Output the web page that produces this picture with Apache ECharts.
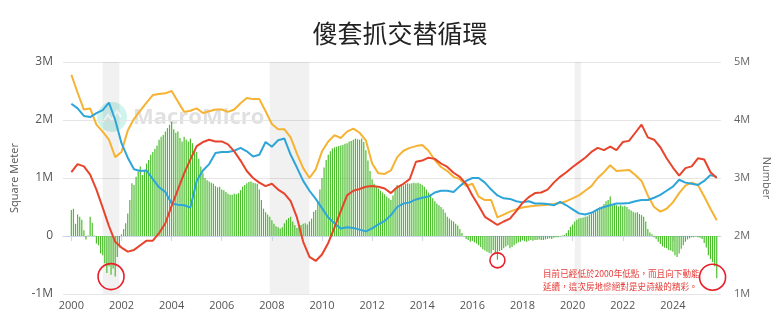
<!DOCTYPE html>
<html>
<head>
<meta charset="utf-8">
<script src="https://cdn.jsdelivr.net/npm/echarts@6/dist/echarts.min.js"></script>
<style>
  html, body { margin: 0; padding: 0; background: #fff; }
  #chart { width: 780px; height: 325px; }
</style>
</head>
<body>
<div id="chart"></div>
<script>
// Monthly categories, Sep 1999 .. Dec 2025 (the axis runs a little past the data on both ends)
const monthLabels = [];
for (let y = 1999; y <= 2025; y++) {
  for (let m = 1; m <= 12; m++) {
    if (y === 1999 && m < 9) continue;
    monthLabels.push(y + '-' + String(m).padStart(2, '0'));
  }
}
const firstMonth = '2000-01';

// Monthly gap bars (M square meters), Jan 2000 .. Oct 2025, one row per year
const gapBars = [
  0.45, 0.47, 0.21, 0.37, 0.33, 0.28, 0.10, -0.06, 0.01, 0.33, 0.23, 0.01,
  -0.13, -0.16, -0.30, -0.33, -0.47, -0.64, -0.52, -0.67, -0.56, -0.70, -0.36, -0.20,
  0.03, 0.12, 0.22, 0.39, 0.62, 0.91, 0.88, 1.02, 1.11, 1.20, 1.05, 1.14,
  1.25, 1.31, 1.40, 1.45, 1.50, 1.56, 1.66, 1.71, 1.74, 1.80, 1.86, 1.92,
  1.97, 1.84, 1.78, 1.80, 1.69, 1.63, 1.71, 1.66, 1.63, 1.68, 1.60, 1.50,
  1.45, 1.33, 1.20, 1.08, 1.00, 0.96, 0.94, 0.92, 0.90, 0.86, 0.84, 0.85,
  0.80, 0.79, 0.76, 0.73, 0.71, 0.71, 0.73, 0.72, 0.74, 0.79, 0.85, 0.88,
  0.91, 0.93, 0.94, 0.92, 0.91, 0.90, 0.80, 0.62, 0.47, 0.41, 0.37, 0.33,
  0.27, 0.21, 0.17, 0.15, 0.13, 0.15, 0.22, 0.28, 0.31, 0.33, 0.25, 0.19,
  0.14, 0.15, 0.19, 0.21, 0.22, 0.20, 0.25, 0.30, 0.42, 0.45, 0.60, 0.80,
  1.00, 1.18, 1.31, 1.40, 1.46, 1.51, 1.53, 1.54, 1.55, 1.56, 1.57, 1.59,
  1.60, 1.63, 1.64, 1.66, 1.68, 1.67, 1.66, 1.68, 1.62, 1.48, 1.30, 1.12,
  0.98, 0.90, 0.86, 0.82, 0.78, 0.75, 0.72, 0.68, 0.65, 0.62, 0.70, 0.82,
  0.88, 0.86, 0.88, 0.87, 0.90, 0.91, 0.90, 0.91, 0.92, 0.91, 0.92, 0.90,
  0.88, 0.85, 0.80, 0.75, 0.71, 0.65, 0.60, 0.56, 0.53, 0.50, 0.46, 0.40,
  0.33, 0.30, 0.27, 0.25, 0.21, 0.18, 0.12, 0.05, -0.01, -0.05, -0.07, -0.10,
  -0.08, -0.11, -0.13, -0.16, -0.19, -0.23, -0.25, -0.27, -0.29, -0.30, -0.24, -0.30,
  -0.41, -0.26, -0.24, -0.21, -0.18, -0.16, -0.21, -0.19, -0.16, -0.13, -0.11, -0.10,
  -0.07, -0.09, -0.10, -0.08, -0.07, -0.08, -0.07, -0.07, -0.06, -0.07, -0.07, -0.06,
  -0.05, -0.04, -0.05, -0.03, -0.02, -0.02, -0.01, 0.01, 0.02, 0.05, 0.10, 0.16,
  0.20, 0.25, 0.28, 0.30, 0.31, 0.32, 0.33, 0.34, 0.36, 0.39, 0.42, 0.44,
  0.47, 0.50, 0.51, 0.55, 0.60, 0.62, 0.68, 0.52, 0.55, 0.53, 0.51, 0.53,
  0.51, 0.52, 0.50, 0.46, 0.44, 0.42, 0.40, 0.41, 0.38, 0.36, 0.33, 0.25,
  0.12, 0.06, 0.03, -0.02, -0.05, -0.10, -0.14, -0.18, -0.20, -0.21, -0.24, -0.25,
  -0.27, -0.33, -0.36, -0.30, -0.22, -0.16, -0.10, -0.06, -0.04, -0.02, -0.02, -0.01,
  -0.02, -0.03, -0.05, -0.12, -0.20, -0.33, -0.40, -0.45, -0.52, -0.73
];

// Quarterly line readings (Jan/Apr/Jul/Oct), 2000 .. 2025, one row per year
const lineStep = 3;
const orangeArea = [
  2.78, 2.47, 2.18, 2.20,  1.92, 1.80, 1.66, 1.36,  1.45, 1.82, 2.02, 2.16,  2.30, 2.43, 2.45, 2.46,
  2.50, 2.32, 2.14, 2.16,  2.20, 2.12, 2.15, 2.18,  2.18, 2.14, 2.18, 2.29,  2.38, 2.36, 2.36, 2.15,
  1.93, 1.84, 1.84, 1.70,  1.42, 1.17, 1.00, 1.15,  1.46, 1.63, 1.74, 1.69,  1.80, 1.85, 1.78, 1.65,
  1.25, 1.08, 1.07, 1.13,  1.36, 1.47, 1.52, 1.55,  1.57, 1.47, 1.31, 1.19,  1.12, 1.02, 0.98, 0.86,
  0.90, 0.68, 0.62, 0.62,  0.32, 0.37, 0.42, 0.46,  0.49, 0.51, 0.52, 0.53,  0.54, 0.55, 0.57, 0.60,
  0.65, 0.70, 0.78, 0.86,  1.00, 1.10, 1.22, 1.12,  1.13, 1.14, 1.05, 0.95,  0.70, 0.50, 0.42, 0.47,
  0.58, 0.74, 0.87, 0.92,  0.88, 0.68, 0.47, 0.27
];
const blueArea = [
  2.28, 2.20, 2.07, 2.05,  2.12, 2.17, 2.30, 2.00,  1.60, 1.35, 1.15, 1.12,  1.13, 0.98, 0.84, 0.76,
  0.56, 0.54, 0.53, 0.49,  0.95, 1.13, 1.24, 1.43,  1.45, 1.45, 1.47, 1.52,  1.46, 1.37, 1.40, 1.62,
  1.54, 1.65, 1.68, 1.40,  1.18, 0.95, 0.78, 0.64,  0.48, 0.32, 0.22, 0.13,  0.15, 0.14, 0.11, 0.08,
  0.13, 0.20, 0.26, 0.36,  0.50, 0.56, 0.58, 0.63,  0.66, 0.68, 0.75, 0.78,  0.78, 0.76, 0.86, 0.95,
  1.00, 1.00, 0.92, 0.80,  0.70, 0.65, 0.64, 0.60,  0.58, 0.60, 0.56, 0.56,  0.55, 0.53, 0.59, 0.53,
  0.46, 0.39, 0.37, 0.40,  0.46, 0.50, 0.53, 0.56,  0.56, 0.57, 0.60, 0.62,  0.62, 0.66, 0.71, 0.78,
  0.85, 0.97, 0.92, 0.90,  0.88, 0.95, 1.05, 1.02
];
const redCount = [
  3.10, 3.24, 3.20, 3.06,  2.80, 2.49, 2.17, 1.90,  1.80, 1.73, 1.76, 1.84,  1.92, 1.92, 2.05, 2.22,
  2.52, 2.80, 3.08, 3.32,  3.55, 3.62, 3.66, 3.63,  3.63, 3.58, 3.46, 3.30,  3.12, 3.00, 2.92, 2.86,
  2.90, 2.80, 2.73, 2.60,  2.32, 1.90, 1.64, 1.57,  1.68, 1.88, 2.15, 2.43,  2.70, 2.78, 2.81, 2.85,
  2.86, 2.85, 2.82, 2.74,  2.84, 2.90, 2.98, 3.28,  3.30, 3.35, 3.33, 3.25,  3.19, 3.09, 3.02, 2.90,
  2.70, 2.52, 2.33, 2.26,  2.19, 2.25, 2.30, 2.43,  2.57, 2.67, 2.74, 2.75,  2.80, 2.92, 3.02, 3.10,
  3.19, 3.27, 3.35, 3.45,  3.52, 3.48, 3.54, 3.48,  3.62, 3.64, 3.78, 3.92,  3.70, 3.66, 3.53, 3.34,
  3.18, 3.04, 3.17, 3.20,  3.34, 3.32, 3.10, 3.00
];

// Shaded recession periods
const recessionBands = [
  ['2001-04', '2001-12'],
  ['2007-12', '2009-07'],
  ['2020-02', '2020-05']
];

// Circled lows on the gap bars
const circledLows = [
  ['2001-08', -0.70],
  ['2017-01', -0.42],
  ['2025-08', -0.71]
];
const circleSizes = [26, 15, 26];

const noteLines = [
  '目前已經低於2000年低點，而且向下動能',
  '延續，這次房地慘絕對是史詩級的精彩。'
];

const start = monthLabels.indexOf(firstMonth);
const monthIndex = label => monthLabels.indexOf(label);
const toBarPairs = arr => arr.map((v, i) => [start + i, v]);
const toLinePairs = arr => arr.map((v, i) => [start + i * lineStep, v]);

const isEvenYearJan = (idx, val) => val.slice(5) === '01' && Number(val.slice(0, 4)) % 2 === 0;

const chart = echarts.init(document.getElementById('chart'), null, { renderer: 'canvas' });

chart.setOption({
  animation: false,
  backgroundColor: '#fff',
  title: {
    text: '傻套抓交替循環',
    left: 395,
    top: 16,
    textAlign: 'center',
    textStyle: { fontSize: 25, fontWeight: 'normal', color: '#222', fontFamily: '"Noto Sans CJK TC", sans-serif' }
  },
  grid: { left: 63, right: 53, top: 62, bottom: 31, containLabel: false },
  xAxis: {
    type: 'category',
    data: monthLabels,
    boundaryGap: false,
    axisLine: { lineStyle: { color: '#ccd6eb' } },
    axisTick: { show: true, interval: isEvenYearJan, length: 5, lineStyle: { color: '#ccd6eb' } },
    axisLabel: {
      interval: isEvenYearJan,
      formatter: v => v.slice(0, 4),
      color: '#555', fontSize: 11, margin: 6, fontFamily: '"Open Sans", sans-serif'
    },
    splitLine: { show: false }
  },
  yAxis: [
    {
      type: 'value', position: 'left', min: -1, max: 3, interval: 1,
      name: 'Square Meter', nameLocation: 'middle', nameGap: 40, nameRotate: 90,
      nameTextStyle: { color: '#555', fontSize: 11, fontFamily: '"Open Sans", sans-serif' },
      axisLabel: { formatter: v => (v === 0 ? '0' : v + 'M'), color: '#555', fontSize: 12, margin: 10, fontFamily: '"Open Sans", sans-serif' },
      axisLine: { show: false }, axisTick: { show: false },
      splitLine: { lineStyle: { color: '#e6e6e6', width: 1 } }
    },
    {
      type: 'value', position: 'right', min: 1, max: 5, interval: 1,
      name: 'Number', nameLocation: 'middle', nameGap: 30, nameRotate: -90,
      nameTextStyle: { color: '#666', fontSize: 11, fontFamily: '"Open Sans", sans-serif' },
      axisLabel: { formatter: v => v + 'M', color: '#666', fontSize: 11, margin: 13, fontFamily: '"Open Sans", sans-serif' },
      axisLine: { show: false }, axisTick: { show: false },
      splitLine: { show: false }
    }
  ],
  graphic: [
    // MacroMicro mark behind the series
    { type: 'circle', z: 0, silent: true, shape: { cx: 112, cy: 117, r: 15 }, style: { fill: 'rgba(120,220,200,0.35)' } },
    { type: 'polyline', z: 0, silent: true, shape: { points: [[103, 122], [108, 115], [112, 120], [117, 111], [121, 117]] },
      style: { stroke: 'rgba(255,255,255,0.9)', lineWidth: 2, fill: null } },
    { type: 'text', z: 0, silent: true, x: 133, y: 118,
      style: { text: 'MacroMicro', fill: 'rgba(0,0,0,0.12)', fontSize: 22, fontWeight: 'bold', fontFamily: '"Open Sans", sans-serif', verticalAlign: 'middle' } },
    // Note in red
    { type: 'text', z: 100, silent: true, x: 543, y: 267,
      style: { text: noteLines.join('\n'), fill: '#e53935', fontSize: 8.6, lineHeight: 13, fontFamily: '"Noto Sans CJK TC", sans-serif' } }
  ],
  series: [
    {
      name: '面積差',
      type: 'bar',
      yAxisIndex: 0,
      data: toBarPairs(gapBars),
      barWidth: 1.2,
      itemStyle: { color: '#4bbd2d' },
      z: 2
    },
    {
      name: '面積A', type: 'line', yAxisIndex: 0, data: toLinePairs(orangeArea),
      showSymbol: false, lineStyle: { width: 2, color: '#f6b333' }, itemStyle: { color: '#f6b333' }, z: 3,
      markArea: {
        silent: true,
        z: 0,
        itemStyle: { color: 'rgba(0,0,0,0.055)' },
        data: recessionBands.map(b => [{ xAxis: monthIndex(b[0]) }, { xAxis: monthIndex(b[1]) }])
      },
      markPoint: {
        silent: true,
        symbol: 'circle',
        label: { show: false },
        itemStyle: { color: 'rgba(0,0,0,0)', borderColor: '#e8202a', borderWidth: 1.6 },
        data: circledLows.map((c, i) => ({ coord: [monthIndex(c[0]), c[1]], symbolSize: circleSizes[i] }))
      }
    },
    {
      name: '面積B', type: 'line', yAxisIndex: 0, data: toLinePairs(blueArea),
      showSymbol: false, lineStyle: { width: 2, color: '#2ea5d8' }, itemStyle: { color: '#2ea5d8' }, z: 4
    },
    {
      name: '棟數', type: 'line', yAxisIndex: 1, data: toLinePairs(redCount),
      showSymbol: false, lineStyle: { width: 2, color: '#e8442c' }, itemStyle: { color: '#e8442c' }, z: 5
    }
  ]
});
</script>
</body>
</html>
